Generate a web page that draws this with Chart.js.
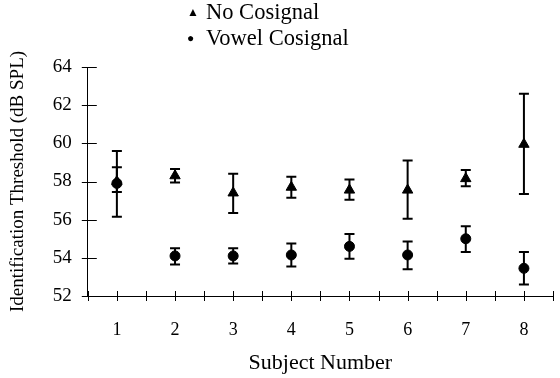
<!DOCTYPE html>
<html>
<head>
<meta charset="utf-8">
<script src="https://cdn.jsdelivr.net/npm/chart.js@4.4.0/dist/chart.umd.min.js"></script>
<style>
  body { margin: 0; background: #fff; }
  #wrap { position: relative; width: 560px; height: 378px; }
  #legend { position: absolute; left: 187px; top: -1px; font-family: "Liberation Serif", serif; font-size: 22.5px; line-height: 25px; color: #000; }
  #legend span.m { display: inline-block; width: 19px; font-size: 12px; vertical-align: 3px; }
</style>
</head>
<body>
<div id="wrap">
  <canvas id="chart" width="560" height="378"></canvas>
  <div id="legend">
    <div><span class="m">&#9650;</span>No Cosignal</div>
    <div><span class="m">&#9679;</span>Vowel Cosignal</div>
  </div>
</div>
<script>
const subjects = [1, 2, 3, 4, 5, 6, 7, 8];
const noCosignal = [58.0, 58.3, 57.4, 57.7, 57.55, 57.55, 58.15, 59.95];
const noCosignalLow = [56.15, 57.95, 56.35, 57.15, 57.05, 56.05, 57.75, 57.35];
const noCosignalHigh = [59.6, 58.65, 58.4, 58.25, 58.1, 59.1, 58.6, 62.6];
const vowelCosignal = [57.9, 54.1, 54.1, 54.15, 54.6, 54.15, 55.0, 53.45];
const vowelCosignalLow = [57.45, 53.65, 53.7, 53.55, 53.95, 53.4, 54.3, 52.6];
const vowelCosignalHigh = [58.75, 54.5, 54.5, 54.75, 55.25, 54.85, 55.65, 54.3];

const serif = '"Liberation Serif", "Times New Roman", serif';

// error bars and tick marks crossing the axes, drawn through the chart scales
const errorBars = {
  id: 'errorBars',
  afterDatasetsDraw(chart) {
    const ctx = chart.ctx;
    const xs = chart.scales.x, ys = chart.scales.y;
    const sets = [[noCosignalLow, noCosignalHigh], [vowelCosignalLow, vowelCosignalHigh]];
    ctx.save();
    ctx.strokeStyle = '#000';
    ctx.lineWidth = 2;
    sets.forEach(([lo, hi]) => {
      subjects.forEach((s, i) => {
        const x = xs.getPixelForValue(s);
        const y1 = ys.getPixelForValue(lo[i]);
        const y2 = ys.getPixelForValue(hi[i]);
        ctx.beginPath();
        ctx.moveTo(x, y1); ctx.lineTo(x, y2);
        ctx.moveTo(x - 5, y1); ctx.lineTo(x + 5, y1);
        ctx.moveTo(x - 5, y2); ctx.lineTo(x + 5, y2);
        ctx.stroke();
      });
    });
    ctx.lineWidth = 1;
    ys.ticks.forEach(t => {
      const y = Math.round(ys.getPixelForValue(t.value)) + 0.5;
      ctx.beginPath();
      ctx.moveTo(xs.left - 6, y); ctx.lineTo(xs.left + 9, y);
      ctx.stroke();
    });
    xs.ticks.forEach(t => {
      const x = Math.round(xs.getPixelForValue(t.value)) + 0.5;
      ctx.beginPath();
      ctx.moveTo(x, ys.bottom - 5); ctx.lineTo(x, ys.bottom + 5);
      ctx.stroke();
    });
    ctx.restore();
  }
};

new Chart(document.getElementById('chart').getContext('2d'), {
  type: 'scatter',
  data: {
    datasets: [{
      label: 'No Cosignal',
      data: subjects.map((s, i) => ({ x: s, y: noCosignal[i] })),
      pointStyle: 'triangle',
      pointRadius: 6,
      backgroundColor: '#000',
      borderColor: '#000'
    }, {
      label: 'Vowel Cosignal',
      data: subjects.map((s, i) => ({ x: s, y: vowelCosignal[i] })),
      pointStyle: 'circle',
      pointRadius: 5,
      backgroundColor: '#000',
      borderColor: '#000'
    }]
  },
  options: {
    responsive: false,
    animation: false,
    layout: { padding: { top: 67, right: 0, left: 7, bottom: 2 } },
    plugins: { legend: { display: false }, tooltip: { enabled: false } },
    scales: {
      x: {
        type: 'linear',
        min: 0.5,
        max: 8.5,
        afterFit: scale => { scale.paddingRight = 0; },
        ticks: {
          stepSize: 0.5,
          color: '#000',
          font: { family: serif, size: 18 },
          padding: 0,
          align: 'inner',
          maxRotation: 0,
          autoSkip: false,
          callback: v => Number.isInteger(v) ? v : ''
        },
        grid: { drawOnChartArea: false, tickLength: 23, tickColor: 'rgba(0,0,0,0)' },
        border: { color: '#000', width: 1 },
        title: { display: true, text: 'Subject Number', color: '#000', font: { family: serif, size: 22 }, padding: { top: 9, bottom: 0 } }
      },
      y: {
        min: 52,
        max: 64,
        afterFit: scale => { scale.paddingRight = 0; },
        ticks: { stepSize: 2, color: '#000', font: { family: serif, size: 19 }, padding: 0 },
        grid: { drawOnChartArea: false, tickLength: 16, tickColor: 'rgba(0,0,0,0)' },
        border: { color: '#000', width: 1 },
        title: { display: true, text: 'Identification Threshold (dB SPL)', color: '#000', font: { family: serif, size: 19 }, padding: { top: 0, bottom: 23 } }
      }
    }
  },
  plugins: [errorBars]
});
</script>
</body>
</html>
